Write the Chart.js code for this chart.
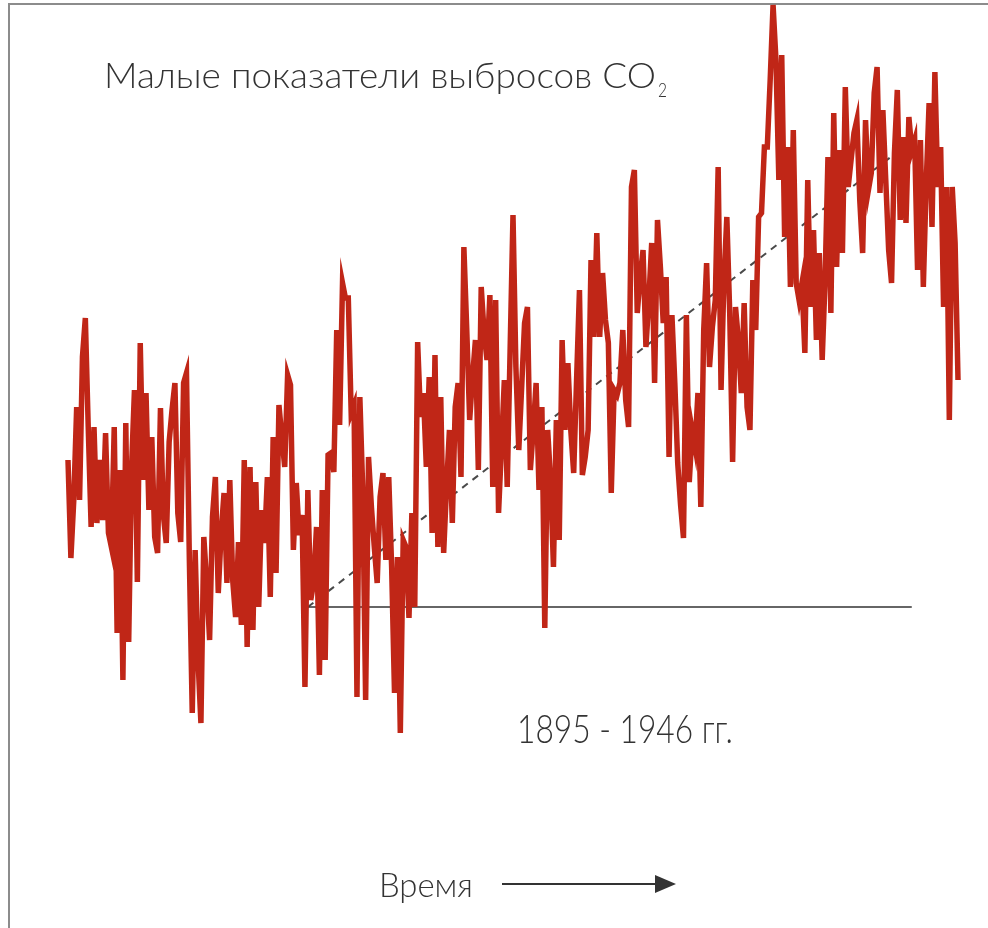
<!DOCTYPE html>
<html>
<head>
<meta charset="utf-8">
<title>Малые показатели выбросов CO2</title>
<script src="https://cdn.jsdelivr.net/npm/chart.js@4.4.0/dist/chart.umd.min.js"></script>
<style>
  html, body { margin: 0; padding: 0; background: #fff; }
  #wrap { width: 988px; height: 928px; }
</style>
</head>
<body>
<div id="wrap"><canvas id="co2Chart" width="988" height="928"></canvas></div>
<script>
// emissions.js - noisy CO2 series with the 1895-1946 reference lines

// Series values (relative units, 0 = level of the horizontal reference line)
const emissions = [
    // early part
    147, 49, 107, 200, 107, 250, 289, 180, 80, 180,
    84, 147, 87, 174, 74, 60, 180, -26, 137, -73,
    184, -35, 140, 217, 25, 264, 127, 214, 97, 170,
    70, 54, 199, 92, 64, 165, 197, 224, 94, 65,
    224, 234, 47, -106, 57, -53, -116, 70, 24, -33,
    90, 130,
    // middle part
    14, 74, 114, 24, 127, 27, -10, 65, -18, 147,
    -40, 140, -23, 125, 0, 97, 64, 130, 10, 170,
    34, 202, 170, 140, 232, 222, 57, 124, 72, 92,
    -80, 117, 7, 24, 80, -68, 117, -53, 152, 154,
    135, 277, 182, 324, 309, 309, 194, 202, -90, 210,
    117, -93, 150, 100, 60, 24, 110, 134, 47, 130,
    40, -86, 50, -126, 67, 60, -11, 94, 0, 265,
    190, 214, 140, 230, 74, 252, 60, 210, 54, 120,
    177, 84, 200, 224, 130, 360, 277, 187, 230, 267,
    137, 320, 274, 247, 312, 120, 307, 94, 160, 227,
    120, 257, 392, 240,
    157, 220, 284, 300, 137, 177, 224, 117, 200, -21,
    177, 127, 40, 187, 67, 267, 177, 244, 177, 134,
    227, 317, 132, 150, 177, 347, 270, 374, 270, 334,
    287, 264, 114, 217, 212, 224, 277, 207, 180, 420,
    437, 294, 330, 357, 260, 307, 364, 224, 387, 340,
    284, 330,
    // late part
    150, 292, 224, 144, 102, 69, 292, 125, 177, 160,
    214, 100, 277, 344, 240, 280, 307, 440, 217, 327,
    390, 294, 145, 300, 267, 214, 304, 200, 177, 327,
    277, 390, 394, 460, 460, 527, 602, 547, 427, 552,
    370, 460, 320, 477, 324, 307, 324, 254, 427, 300,
    377, 267, 354, 247, 327, 450, 294, 494, 340, 457,
    354, 520, 420, 447, 474, 487, 407, 354, 487, 417,
    434, 514, 540, 414, 497, 427, 357, 324, 454, 517,
    387, 470, 384, 490, 457, 467, 337, 467, 320, 424,
    504, 380, 535, 420, 460, 300, 420, 187, 420, 364,
    227
];

// Reference lines: [start index, end index] and their levels
const baseIdx = [83, 292];
const baseLevel = [0, 0];
const trendIdx = [83, 291];
const trendLevel = [0, 464];

// Text labels
const titleText = "Малые показатели выбросов CO";
const titleSub = "2";
const periodText = "1895 - 1946 гг.";
const axisText = "Время";

const FONT = "Lato, 'Noto Sans', 'DejaVu Sans', sans-serif";

// Draw text stretched to a given width
const drawFit = (ctx, text, x, y, size, width) => {
    ctx.font = "300 " + size + "px " + FONT;
    const w = ctx.measureText(text).width;
    ctx.save();
    ctx.translate(x, y);
    ctx.scale(width / w, 1);
    ctx.fillText(text, 0, 0);
    ctx.restore();
};

// Frame, background and annotations
const decorPlugin = {
    id: "decor",
    beforeDraw: (chart) => {
        const ctx = chart.ctx;
        ctx.save();
        ctx.fillStyle = "#fff";
        ctx.fillRect(0, 0, chart.width, chart.height);
        ctx.strokeStyle = "#8c8c8c";
        ctx.lineWidth = 2;
        ctx.beginPath();
        ctx.moveTo(9, chart.height);
        ctx.lineTo(9, 4);
        ctx.lineTo(chart.width, 4);
        ctx.stroke();
        ctx.restore();
    },
    afterDraw: (chart) => {
        const ctx = chart.ctx;
        ctx.save();
        ctx.fillStyle = "#333";
        ctx.textBaseline = "alphabetic";
        drawFit(ctx, titleText, 104, 88, 35, 552);
        drawFit(ctx, titleSub, 658, 97, 19, 9);
        drawFit(ctx, periodText, 517, 743, 40, 216);
        drawFit(ctx, axisText, 379, 897, 33, 94);

        // arrow next to "Время"
        ctx.strokeStyle = "#333";
        ctx.lineWidth = 2;
        ctx.beginPath();
        ctx.moveTo(502, 884);
        ctx.lineTo(660, 884);
        ctx.stroke();
        ctx.beginPath();
        ctx.moveTo(655, 875);
        ctx.lineTo(676, 884);
        ctx.lineTo(655, 893);
        ctx.closePath();
        ctx.fill();
        ctx.restore();
    }
};

const ctx = document.getElementById("co2Chart").getContext("2d");
const co2Chart = new Chart(ctx, {
    type: "line",
    data: {
        datasets: [
            {
                label: "Выбросы CO2",
                data: emissions.map((v, i) => ({ x: i, y: v })),
                borderColor: "#c02617",
                borderWidth: 5.5,
                borderJoinStyle: "miter",
                pointRadius: 0,
                tension: 0,
                fill: false,
                clip: false,
                order: 0
            },
            {
                label: "Уровень",
                data: baseIdx.map((x, i) => ({ x: x, y: baseLevel[i] })),
                borderColor: "#333",
                borderWidth: 1.5,
                pointRadius: 0,
                fill: false,
                order: 1
            },
            {
                label: "Тренд",
                data: trendIdx.map((x, i) => ({ x: x, y: trendLevel[i] })),
                borderColor: "#4a4a4a",
                borderWidth: 2,
                borderDash: [7, 6],
                pointRadius: 0,
                fill: false,
                order: 2
            }
        ]
    },
    options: {
        responsive: false,
        animation: false,
        layout: { padding: { left: 68, right: 30, top: 0, bottom: 188 } },
        plugins: {
            legend: { display: false },
            tooltip: { enabled: false }
        },
        scales: {
            x: { type: "linear", display: false, min: 0, max: emissions.length - 1 },
            y: { display: false, min: -133, max: 607 }
        }
    },
    plugins: [decorPlugin]
});
</script>
</body>
</html>
